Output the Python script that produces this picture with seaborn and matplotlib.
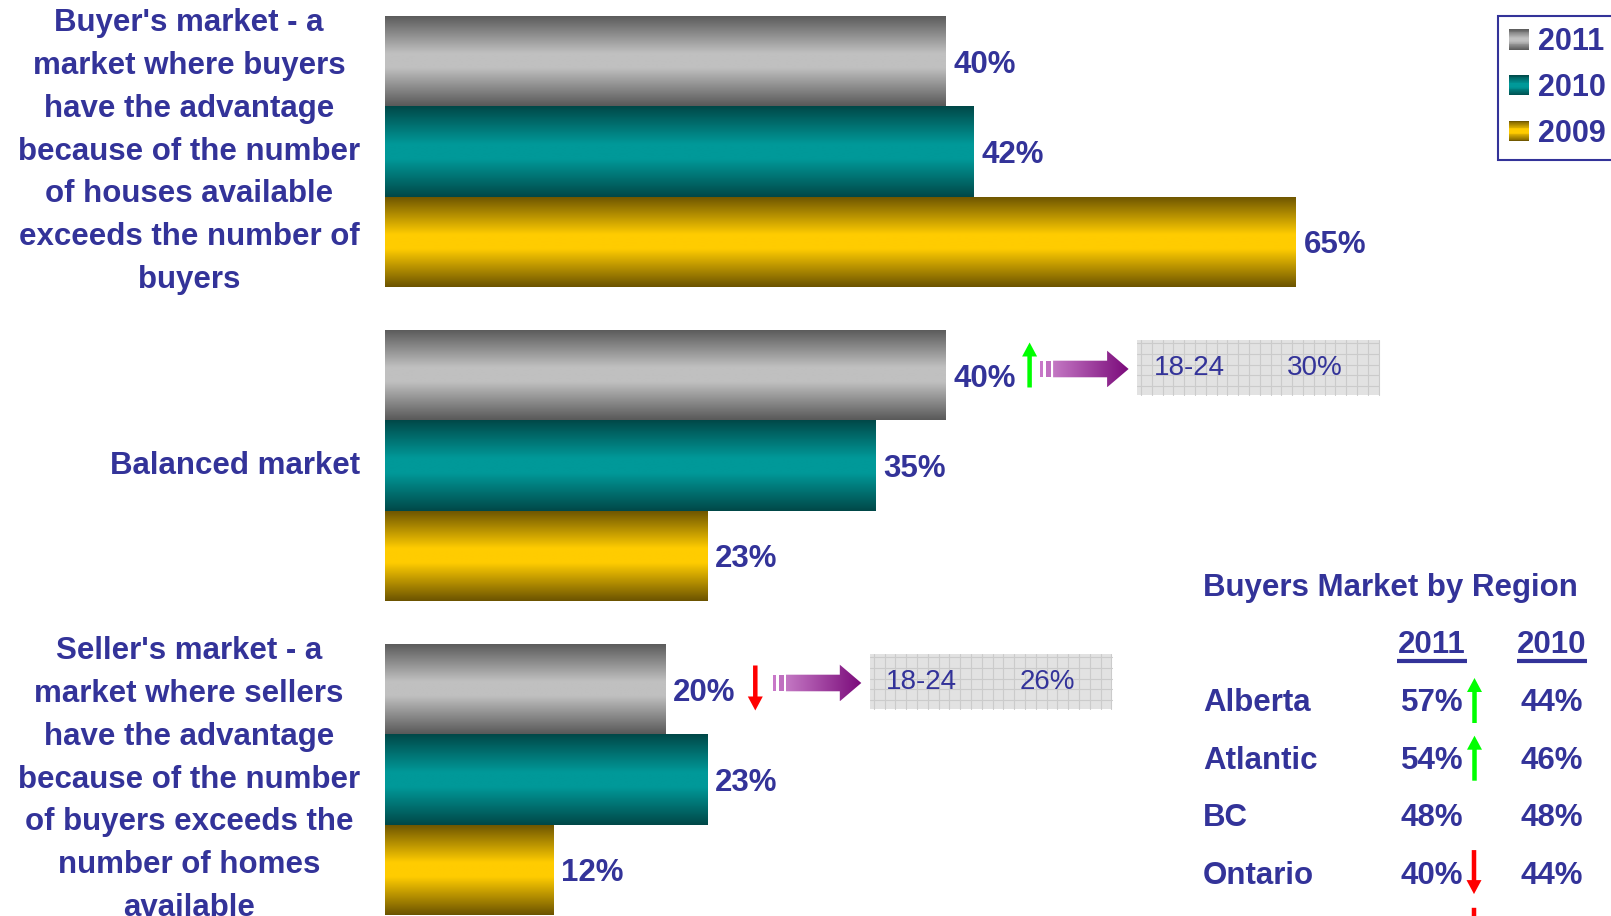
import numpy as np
import pandas as pd
import matplotlib
matplotlib.use("Agg")
import matplotlib.pyplot as plt
import seaborn as sns
from matplotlib import font_manager
from matplotlib.colors import LinearSegmentedColormap
from matplotlib.legend_handler import HandlerBase
from matplotlib.patches import Rectangle, Polygon, FancyArrow

# ---- data ----
markets = [
    "Buyer's market - a\nmarket where buyers\nhave the advantage\nbecause of the number\n"
    "of houses available\nexceeds the number of\nbuyers",
    "Balanced market",
    "Seller's market - a\nmarket where sellers\nhave the advantage\nbecause of the number\n"
    "of buyers exceeds the\nnumber of homes\navailable",
]
years = ["2011", "2010", "2009"]
pct_2011 = [40, 40, 20]
pct_2010 = [42, 35, 23]
pct_2009 = [65, 23, 12]

# 2011 change markers and the 18-24 call-outs (None = nothing shown)
trend_2011 = [None, "up", "down"]
youth_label = "18-24"
youth_pct = [None, 30, 26]

table_title = "Buyers Market by Region"
regions = ["Alberta", "Atlantic", "BC", "Ontario"]
region_2011 = [57, 54, 48, 40]
region_2010 = [44, 46, 48, 44]
region_trend = ["up", "up", None, "down"]

# ---- style ----
NAVY = "#333399"
W, H = 1611, 916
bar_colors = {
    "2011": ("#595959", "#c0c0c0"),
    "2010": ("#004848", "#009999"),
    "2009": ("#6b5300", "#ffcc00"),
}


def shade(dark, light):
    return LinearSegmentedColormap.from_list(
        "", [(0, dark), (0.42, light), (0.58, light), (1, dark)])


cmaps = {y: shade(*bar_colors[y]) for y in years}

df = pd.DataFrame({
    "market": markets * 3,
    "year": np.repeat(years, 3),
    "pct": pct_2011 + pct_2010 + pct_2009,
})

sns.set_theme(style="white")
plt.rcParams["font.family"] = ["Liberation Sans", "DejaVu Sans"]

names = {f.name for f in font_manager.fontManager.ttflist}
narrow = "Liberation Sans Narrow" if "Liberation Sans Narrow" in names else "Liberation Sans"
narrow_size = 23 if narrow == "Liberation Sans Narrow" else 20

fig = plt.figure(figsize=(W / 100, H / 100), dpi=100)
left_px, px_per_pct = 385, 14.015
ax = fig.add_axes([left_px / W, 0, 1 - left_px / W, 1])

sns.barplot(data=df, x="pct", y="market", hue="year", order=markets,
            hue_order=years, orient="h", width=0.86,
            palette=[bar_colors[y][1] for y in years], legend=False, ax=ax)

# metallic look: gradient image clipped to every bar
grad = np.linspace(0, 1, 256).reshape(-1, 1)
for year, cont in zip(years, ax.containers):
    for bar in cont:
        x, y, w, h = bar.get_x(), bar.get_y(), bar.get_width(), bar.get_height()
        im = ax.imshow(grad, cmap=cmaps[year], extent=[x, x + w, y + h, y],
                       aspect="auto", zorder=2, interpolation="bilinear")
        im.set_clip_path(bar)
        bar.set_facecolor("none")
        bar.set_edgecolor("none")
    labels = ax.bar_label(cont, fmt="%.0f%%", padding=5.5, fontsize=22.5,
                          fontweight="bold", color=NAVY)
    for t in labels:
        t.set_verticalalignment("center_baseline")

pitch, first_c = 314, 151.5
ax.set_xlim(0, (W - left_px) / px_per_pct)
ax.set_ylim((H - first_c) / pitch, -first_c / pitch)
ax.set_xticks([])
ax.set_xlabel("")
ax.set_ylabel("")
sns.despine(ax=ax, left=True, bottom=True)
ax.tick_params(axis="y", length=0, pad=18, labelsize=22.5, labelcolor=NAVY)
for lbl in ax.get_yticklabels():
    lbl.set_fontweight("bold")
    lbl.set_multialignment("center")
    lbl.set_linespacing(1.56)
    lbl.set_verticalalignment("center")


# ---- legend with gradient swatches ----
class GradientSwatch(HandlerBase):
    def __init__(self, cmap):
        super().__init__()
        self.cmap = cmap

    def create_artists(self, legend, orig_handle, xdescent, ydescent,
                       width, height, fontsize, trans):
        n = 24
        out = []
        for i in range(n):
            out.append(Rectangle((-xdescent, -ydescent + height * i / n),
                                 width, height / n * 1.05,
                                 facecolor=self.cmap((i + 0.5) / n),
                                 edgecolor="none", transform=trans))
        return out


handles = [Rectangle((0, 0), 1, 1) for _ in years]
leg = fig.legend(handles, years,
                 handler_map={h: GradientSwatch(cmaps[y]) for h, y in zip(handles, years)},
                 loc="upper left", bbox_to_anchor=(1498 / W, 1 - 16 / H),
                 borderaxespad=0, prop={"weight": "bold", "size": 22},
                 labelcolor=NAVY, fancybox=False, edgecolor=NAVY, framealpha=1,
                 handlelength=0.66, handleheight=0.66, handletextpad=0.3,
                 labelspacing=0.52, borderpad=0.36)
leg.get_frame().set_linewidth(1.5)

# ---- overlay in image pixels for call-outs and the region table ----
ov = fig.add_axes([0, 0, 1, 1], zorder=3)
ov.set_xlim(0, W)
ov.set_ylim(H, 0)
ov.axis("off")
ov.patch.set_alpha(0)


def to_px(x, y):
    dx, dy = ax.transData.transform((x, y))
    return dx, H - dy


def trend_arrow(x, y_tail, y_head, color):
    ov.add_patch(FancyArrow(x, y_tail, 0, y_head - y_tail, width=4.5,
                            head_width=15, head_length=14,
                            length_includes_head=True, color=color, lw=0))


purple = LinearSegmentedColormap.from_list("", ["#c478c4", "#7a0a7a"])
nudge = [0, 0, 13]

for i, pct in enumerate(youth_pct):
    if pct is None:
        continue
    bar = ax.containers[0][i]
    ex, cy = to_px(bar.get_width(), bar.get_y() + bar.get_height() / 2)
    if trend_2011[i] == "up":
        trend_arrow(ex + 84, cy + 12, cy - 33, "#00ff00")
    elif trend_2011[i] == "down":
        trend_arrow(ex + 90, cy - 24, cy + 21, "#ff0000")

    # striped block arrow
    sx, ay = ex + 94.5 + nudge[i], cy - 6.5
    ov.add_patch(Rectangle((sx, ay - 8.3), 3.3, 16.6, color="#c878c8", lw=0))
    ov.add_patch(Rectangle((sx + 6, ay - 8.3), 5, 16.6, color="#c070c0", lw=0))
    pts = [(sx + 13, ay - 8.3), (sx + 67, ay - 8.3), (sx + 67, ay - 18.3),
           (sx + 88.5, ay), (sx + 67, ay + 18.3), (sx + 67, ay + 8.3),
           (sx + 13, ay + 8.3)]
    poly = Polygon(pts, closed=True, facecolor="none", edgecolor="none")
    ov.add_patch(poly)
    pim = ov.imshow(np.linspace(0, 1, 256).reshape(1, -1), cmap=purple,
                    extent=[sx + 13, sx + 88.5, ay + 18.3, ay - 18.3],
                    aspect="auto", interpolation="bilinear")
    pim.set_clip_path(poly)

    # grid-textured box
    bx, by = ex + 191.5 + nudge[i], cy - 35.5
    ov.add_patch(Rectangle((bx, by), 242, 55, facecolor="#e2e2e2", lw=0))
    for gx in np.arange(bx + 4, bx + 242, 10.8):
        ov.plot([gx, gx], [by, by + 55], color="#cbcbcb", lw=0.8)
    for gy in np.arange(by + 3, by + 55, 10.8):
        ov.plot([bx, bx + 242], [gy, gy], color="#cbcbcb", lw=0.8)
    ov.text(bx + 52, by + 28, youth_label, ha="center", va="center",
            family=narrow, size=narrow_size, color=NAVY)
    ov.text(bx + 178, by + 28, f"{pct}%", ha="center", va="center",
            family=narrow, size=narrow_size, color=NAVY)

ov.set_xlim(0, W)
ov.set_ylim(H, 0)

# ---- region table ----
tx, c11, c10 = 1203, 1432, 1552
txt = dict(fontsize=22.5, fontweight="bold", color=NAVY, va="center")
ov.text(tx, 588, table_title, ha="left", **txt)
for cx, lab in [(c11, "2011"), (c10, "2010")]:
    ov.text(cx, 645, lab, ha="center", **txt)
    ov.plot([cx - 35, cx + 35], [661, 661], color=NAVY, lw=3, solid_capstyle="butt")

row0, step = 703, 57.7
for k, reg in enumerate(regions):
    ry = row0 + k * step
    ov.text(tx, ry, reg, ha="left", **txt)
    ov.text(c11, ry, f"{region_2011[k]}%", ha="center", **txt)
    ov.text(c10, ry, f"{region_2010[k]}%", ha="center", **txt)
    if region_trend[k] == "up":
        trend_arrow(1474.5, ry + 20, ry - 25, "#00ff00")
    elif region_trend[k] == "down":
        trend_arrow(1474, ry - 26, ry + 18, "#ff0000")
# the next (cut-off) row's down arrow peeks in at the bottom edge
trend_arrow(1474, row0 + 4 * step - 26, row0 + 4 * step + 18, "#ff0000")

fig.savefig("out.png", dpi=100)
